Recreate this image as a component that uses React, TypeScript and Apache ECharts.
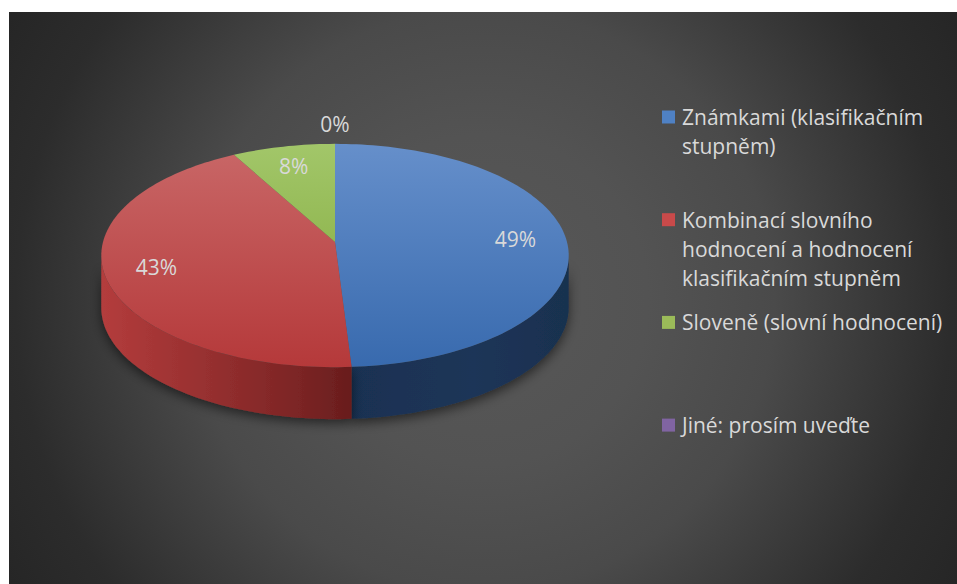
import React, { useEffect, useRef } from "react";
import * as echarts from "echarts";

const categories = [
  "Známkami (klasifikačním stupněm)",
  "Kombinací slovního hodnocení a hodnocení klasifikačním stupněm",
  "Sloveně (slovní hodnocení)",
  "Jiné: prosím uveďte",
];
const legendLines = [
  ["Známkami (klasifikačním", "stupněm)"],
  ["Kombinací slovního", "hodnocení a hodnocení", "klasifikačním stupněm"],
  ["Sloveně (slovní hodnocení)"],
  ["Jiné: prosím uveďte"],
];
const values = [49, 43, 8, 0];
const legendColors = ["#4f81c4", "#c94a4a", "#9bbb59", "#8064a2"];

// geometry (chart coordinates)
const CX = 326;
const CY = 230;
const RX = 232;
const RY = 110;
const K = 0.121;
const DEPTH = 52;
const FONT = "'Open Sans', Lato, sans-serif";
const TEXT_COLOR = "#d9d9d9";

function proj(theta: number, r: number): number[] {
  const u = r * Math.cos(theta);
  const s = 1 + K * u;
  return [CX + (r * RX * Math.sin(theta)) / s, CY - (RY * u) / s];
}

const topGrad = (c0: string, c1: string) =>
  new echarts.graphic.LinearGradient(0, CY - RY, 0, CY + RY + 15, [
    { offset: 0, color: c0 },
    { offset: 1, color: c1 },
  ], true);

const sideGrad = (stops: { offset: number; color: string }[]) =>
  new echarts.graphic.LinearGradient(CX - RX, 0, CX + RX, 0, stops, true);

const topFills = [
  topGrad("#6891cc", "#386aae"),
  topGrad("#ca6a6a", "#b5393a"),
  topGrad("#a4c86c", "#7ea636"),
  topGrad("#9a80bb", "#6b5090"),
];
const sideFills = [
  sideGrad([
    { offset: 0, color: "#152846" },
    { offset: 0.5, color: "#193151" },
    { offset: 0.8, color: "#1c3558" },
    { offset: 1, color: "#19304f" },
  ]),
  sideGrad([
    { offset: 0, color: "#b33c3c" },
    { offset: 0.2, color: "#9a3131" },
    { offset: 0.42, color: "#7c2525" },
    { offset: 0.55, color: "#661c1c" },
    { offset: 1, color: "#5a1818" },
  ]),
  sideGrad([
    { offset: 0, color: "#6a8a30" },
    { offset: 1, color: "#4a6420" },
  ]),
  sideGrad([
    { offset: 0, color: "#5a4478" },
    { offset: 1, color: "#3f2f55" },
  ]),
];

export default function App() {
  const ref = useRef<HTMLDivElement>(null);

  useEffect(() => {
    if (!ref.current) return;
    const chart = echarts.init(ref.current, undefined, { renderer: "svg" });
    const total = values.reduce((a, b) => a + b, 0);
    const TWO_PI = Math.PI * 2;
    const vL = Math.acos(-K);
    const vR = TWO_PI - vL;

    const renderItem = (params: any, api: any) => {
      const i = params.dataIndex;
      const v = api.value(0);
      const before = values.slice(0, i).reduce((a, b) => a + b, 0);
      const start = (before / total) * TWO_PI;
      const end = start + (v / total) * TWO_PI;
      const children: any[] = [];
      if (v > 0) {
        const steps = Math.max(6, Math.ceil((end - start) / (Math.PI / 120)));
        const arc: number[][] = [];
        for (let j = 0; j <= steps; j++) arc.push(proj(start + ((end - start) * j) / steps, 1));
        const s0 = Math.max(start, vL);
        const s1 = Math.min(end, vR);
        if (s1 > s0) {
          const n = Math.max(4, Math.ceil((s1 - s0) / (Math.PI / 120)));
          const topArc: number[][] = [];
          for (let j = 0; j <= n; j++) topArc.push(proj(s0 + ((s1 - s0) * j) / n, 1));
          const bottomArc = topArc.map((p) => [p[0], p[1] + DEPTH]).reverse();
          children.push({
            type: "polygon",
            z2: 1,
            shape: { points: topArc.concat(bottomArc) },
            style: {
              fill: sideFills[i],
              shadowBlur: 12,
              shadowColor: "rgba(0,0,0,0.55)",
              shadowOffsetY: 4,
            },
          });
        }
        children.push({
          type: "polygon",
          z2: 5,
          shape: { points: [[CX, CY]].concat(arc) },
          style: { fill: topFills[i] },
        });
      }
      const share = v / total;
      const mid = (start + end) / 2;
      let lx: number, ly: number;
      if (share < 0.05) {
        const p = proj(mid, 1);
        lx = p[0] + 20 * Math.sin(mid);
        ly = p[1] - 20 * Math.cos(mid);
      } else {
        const p = proj(mid, 0.78);
        lx = p[0];
        ly = p[1];
      }
      children.push({
        type: "text",
        z2: 10,
        style: {
          text: Math.round(share * 100) + "%",
          x: lx,
          y: ly,
          fill: TEXT_COLOR,
          fontSize: 21,
          fontFamily: FONT,
          align: "center",
          verticalAlign: "middle",
        },
      });
      return { type: "group", children };
    };

    const legendGraphics: any[] = [];
    categories.forEach((name, i) => {
      const yc = 105 + i * 102.7;
      legendGraphics.push({
        type: "rect",
        left: 653,
        top: yc - 6.5,
        shape: { width: 13, height: 13 },
        style: { fill: legendColors[i] },
      });
      legendGraphics.push({
        type: "text",
        left: 673,
        top: yc - 14.5,
        style: {
          text: legendLines[i].join("\n"),
          fill: TEXT_COLOR,
          fontSize: 21,
          fontFamily: FONT,
          lineHeight: 29,
        },
        name,
      });
    });

    chart.setOption({
      animation: false,
      backgroundColor: new echarts.graphic.RadialGradient(474, 288, 550, [
        { offset: 0, color: "#585858" },
        { offset: 0.3, color: "#535353" },
        { offset: 0.53, color: "#4a4a4a" },
        { offset: 0.85, color: "#2c2c2c" },
        { offset: 1, color: "#262626" },
      ], true),
      graphic: legendGraphics,
      series: [
        {
          type: "custom",
          coordinateSystem: "none",
          renderItem,
          data: values.map((v, i) => ({ name: categories[i], value: [v] })),
        },
      ],
    });
    return () => chart.dispose();
  }, []);

  return (
    <div
      ref={ref}
      style={{ position: "absolute", left: 9, top: 12, width: 948, height: 572 }}
    />
  );
}
